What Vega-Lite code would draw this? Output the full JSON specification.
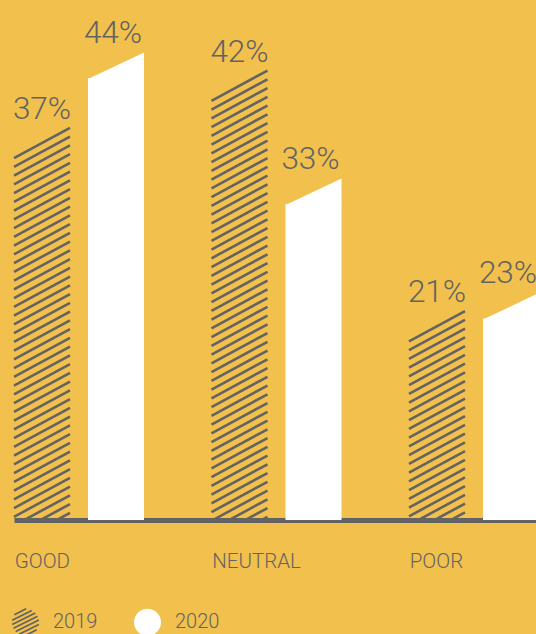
{
  "$schema": "https://vega.github.io/schema/vega-lite/v6.json",
  "width": 536,
  "height": 520,
  "autosize": "none",
  "padding": {"left": 0, "top": 0, "right": 0, "bottom": 114},
  "background": "#F2C04C",
  "config": {"view": {"stroke": null}},
  "data": {
    "values": [
      {"rating": "GOOD", "year": "2019", "value": 0.37},
      {"rating": "GOOD", "year": "2020", "value": 0.44},
      {"rating": "NEUTRAL", "year": "2019", "value": 0.42},
      {"rating": "NEUTRAL", "year": "2020", "value": 0.33},
      {"rating": "POOR", "year": "2019", "value": 0.21},
      {"rating": "POOR", "year": "2020", "value": 0.23}
    ]
  },
  "encoding": {
    "x": {
      "field": "rating",
      "type": "nominal",
      "sort": ["GOOD", "NEUTRAL", "POOR"],
      "scale": {"range": [14, 606.5], "paddingInner": 0, "paddingOuter": 0, "round": false},
      "axis": {
        "title": null,
        "ticks": false,
        "grid": false,
        "domainColor": "#636363",
        "domainWidth": 5,
        "domainCap": "butt",
        "labelAngle": 0,
        "labelAlign": "left",
        "labelOffset": -98,
        "labelBaseline": "alphabetic",
        "labelPadding": 47,
        "labelOverlap": false,
        "labelFont": "Roboto",
        "labelFontSize": 20.5,
        "labelFontWeight": 300,
        "labelColor": "#636363"
      }
    },
    "xOffset": {
      "field": "year",
      "type": "nominal",
      "sort": ["2019", "2020"],
      "scale": {"range": [0, 130], "paddingInner": 0.2432, "paddingOuter": 0, "round": false}
    },
    "y": {
      "field": "value",
      "type": "quantitative",
      "scale": {"domain": [0.054, 0.508], "zero": false, "nice": false},
      "axis": null
    }
  },
  "layer": [
    {
      "mark": {"type": "bar", "clip": true},
      "encoding": {
        "y2": {"datum": 0.054},
        "fill": {
          "field": "year",
          "type": "nominal",
          "scale": {"domain": ["2019", "2020"], "range": ["transparent", "#ffffff"]},
          "legend": {
            "title": null,
            "orient": "none",
            "legendX": 11,
            "legendY": 607.5,
            "direction": "horizontal",
            "symbolSize": 729,
            "symbolStrokeWidth": 1.7,
            "labelFont": "Roboto",
            "labelFontSize": 20,
            "labelFontWeight": 300,
            "labelColor": "#636363",
            "labelOffset": 13,
            "columnPadding": 32,
            "encode": {
              "symbols": {
                "update": {
                  "shape": {"signal": "datum.value === '2019' ? 'M0.894,-0.447L-0.894,0.447M0.986,-0.169L-0.726,0.687M0.726,-0.687L-0.986,0.169M0.988,0.155L-0.47,0.883M0.47,-0.883L-0.988,-0.155M0.83,0.558L-0.052,0.998M0.052,-0.998L-0.83,-0.558' : 'circle'"},
                  "stroke": {"signal": "datum.value === '2019' ? '#636363' : 'transparent'"},
                  "strokeWidth": {"value": 1.7},
                  "opacity": {"value": 1}
                }
              }
            }
          }
        }
      }
    },
    {
      "transform": [{"filter": "datum.year === '2020'"}],
      "mark": {
        "type": "point",
        "shape": "M-1,0.04L1,0.04L1,-0.91Z",
        "size": 3136,
        "filled": true,
        "fill": "#ffffff",
        "strokeWidth": 0,
        "opacity": 1
      }
    },
    {
      "transform": [{"filter": "datum.year === '2019'"}],
      "mark": {
        "type": "point",
        "clip": true,
        "shape": "M-1,0L1,-1.08M-1,0.3125L1,-0.7675M-1,0.625L1,-0.455M-1,0.9375L1,-0.1425M-1,1.25L1,0.17M-1,1.5625L1,0.4825M-1,1.875L1,0.795M-1,2.1875L1,1.1075M-1,2.5L1,1.42M-1,2.8125L1,1.7325M-1,3.125L1,2.045M-1,3.4375L1,2.3575M-1,3.75L1,2.67M-1,4.0625L1,2.9825M-1,4.375L1,3.295M-1,4.6875L1,3.6075M-1,5L1,3.92M-1,5.3125L1,4.2325M-1,5.625L1,4.545M-1,5.9375L1,4.8575M-1,6.25L1,5.17M-1,6.5625L1,5.4825M-1,6.875L1,5.795M-1,7.1875L1,6.1075M-1,7.5L1,6.42M-1,7.8125L1,6.7325M-1,8.125L1,7.045M-1,8.4375L1,7.3575M-1,8.75L1,7.67M-1,9.0625L1,7.9825M-1,9.375L1,8.295M-1,9.6875L1,8.6075M-1,10L1,8.92M-1,10.3125L1,9.2325M-1,10.625L1,9.545M-1,10.9375L1,9.8575M-1,11.25L1,10.17M-1,11.5625L1,10.4825M-1,11.875L1,10.795M-1,12.1875L1,11.1075M-1,12.5L1,11.42M-1,12.8125L1,11.7325M-1,13.125L1,12.045M-1,13.4375L1,12.3575M-1,13.75L1,12.67M-1,14.0625L1,12.9825M-1,14.375L1,13.295M-1,14.6875L1,13.6075M-1,15L1,13.92M-1,15.3125L1,14.2325M-1,15.625L1,14.545M-1,15.9375L1,14.8575M-1,16.25L1,15.17",
        "size": 3136,
        "filled": false,
        "stroke": "#636363",
        "strokeWidth": 2.6,
        "opacity": 1
      }
    },
    {
      "transform": [{"filter": "datum.year === '2019'"}],
      "mark": {"type": "text", "dy": -39, "baseline": "alphabetic", "align": "center", "font": "Roboto", "fontSize": 31.5, "fontWeight": 300, "color": "#636363"},
      "encoding": {"text": {"field": "value", "type": "quantitative", "format": ".0%"}}
    },
    {
      "transform": [{"filter": "datum.year === '2020'"}],
      "mark": {"type": "text", "dy": -35, "dx": -3, "baseline": "alphabetic", "align": "center", "font": "Roboto", "fontSize": 31.5, "fontWeight": 300, "color": "#636363"},
      "encoding": {"text": {"field": "value", "type": "quantitative", "format": ".0%"}}
    }
  ]
}
